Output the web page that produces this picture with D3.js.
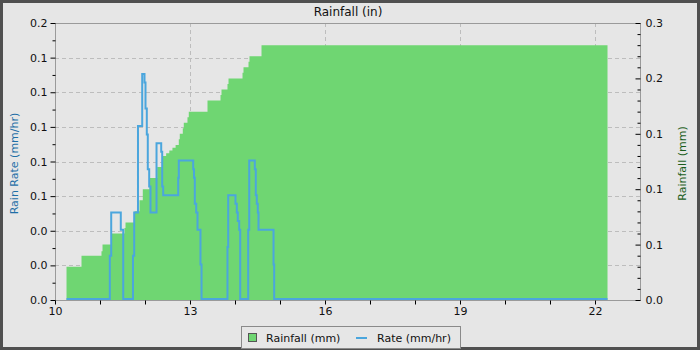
<!DOCTYPE html>
<html>
<head>
<meta charset="utf-8">
<script src="https://cdn.jsdelivr.net/npm/d3@7"></script>
<style>
    body { margin: 0; background: #e6e6e6; }
    svg { display: block; font-family: "DejaVu Sans", sans-serif; }
</style>
</head>
<body>
<svg id="chart" width="700" height="350"></svg>
<script>
// Donnees
const rainTimes = [10.256, 10.589, 11.033, 11.056, 11.256, 11.544, 11.567, 11.767, 11.878, 11.951,
    12.1, 12.271, 12.396, 12.47, 12.54, 12.61, 12.68, 12.751, 12.773, 12.84, 12.862, 12.944, 12.973,
    13.389, 13.678, 13.7, 13.833, 13.856, 14.167, 14.189, 14.3, 14.322, 14.589, 22.278];
const rainTotals = [0.03, 0.04, 0.044, 0.05, 0.06, 0.065, 0.07, 0.08, 0.09, 0.10,
    0.11, 0.12, 0.13, 0.1325, 0.135, 0.1375, 0.14, 0.145, 0.15, 0.155, 0.16, 0.165, 0.17,
    0.18, 0.185, 0.19, 0.195, 0.20, 0.205, 0.21, 0.215, 0.22, 0.23, 0.23];

const rateTimes = [10.256, 11.218, 11.249, 11.462, 11.516, 11.733, 11.76, 11.844, 11.938, 11.989,
    12.011, 12.04, 12.062, 12.093, 12.122, 12.256, 12.36, 12.382, 12.404, 12.738, 12.751,
    13.071, 13.089, 13.107, 13.138, 13.167, 13.233, 13.256, 13.833, 13.849, 14.011, 14.04,
    14.062, 14.093, 14.116, 14.293, 14.316, 14.44, 14.462, 14.484, 14.507, 14.522, 14.856,
    14.871, 22.278];
const rateValues = [0, 0.025, 0.05, 0.04, 0, 0.025, 0.05, 0.10, 0.13, 0.125,
    0.11, 0.095, 0.075, 0.065, 0.05, 0.09, 0.085, 0.065, 0.06, 0.07, 0.08,
    0.075, 0.07, 0.055, 0.05, 0.04, 0.02, 0, 0.03, 0.06, 0.055, 0.05,
    0.045, 0.04, 0, 0.04, 0.08, 0.075, 0.06, 0.055, 0.05, 0.04, 0.02,
    0, 0];

const xTickValues = [10, 13, 16, 19, 22];
const leftTickLabels = ["0.0", "0.0", "0.0", "0.1", "0.1", "0.1", "0.1", "0.1", "0.2"];
const rightTickLabels = ["0.0", "0.1", "0.1", "0.1", "0.2", "0.3"];

const config = {
    width: 700,
    height: 350,
    margin: { top: 23, right: 60, bottom: 50, left: 55 }
};

const svg = d3.select("#chart");
const plotLeft = config.margin.left;
const plotRight = config.width - config.margin.right;
const plotTop = config.margin.top;
const plotBottom = config.height - config.margin.bottom;

const xScale = d3.scaleLinear().domain([10, 23]).range([plotLeft, plotRight]);
const rateScale = d3.scaleLinear().domain([0, 0.16]).range([plotBottom, plotTop]);
const rainScale = d3.scaleLinear().domain([0, 0.25]).range([plotBottom, plotTop]);

// Fond et cadre
svg.append("rect")
    .attr("x", 1.5).attr("y", 1.5)
    .attr("width", config.width - 3).attr("height", config.height - 3)
    .attr("fill", "#e6e6e6")
    .attr("stroke", "#505050")
    .attr("stroke-width", 3);

// Grille
const leftMajor = d3.range(0, 9).map(function(i) { return i * 0.02; });
svg.append("g")
    .selectAll("line")
    .data(leftMajor.slice(1, -1))
    .enter()
    .append("line")
    .attr("x1", plotLeft).attr("x2", plotRight)
    .attr("y1", function(d) { return Math.round(rateScale(d)) + 0.5; })
    .attr("y2", function(d) { return Math.round(rateScale(d)) + 0.5; })
    .attr("stroke", "#bdbdbd")
    .attr("stroke-dasharray", "4,3");

svg.append("g")
    .selectAll("line")
    .data(xTickValues.slice(1))
    .enter()
    .append("line")
    .attr("y1", plotTop).attr("y2", plotBottom)
    .attr("x1", function(d) { return Math.round(xScale(d)) + 0.5; })
    .attr("x2", function(d) { return Math.round(xScale(d)) + 0.5; })
    .attr("stroke", "#bdbdbd")
    .attr("stroke-dasharray", "4,3");

// Pluie cumulee (aire en escalier)
const rainData = rainTimes.map(function(t, i) { return { t: t, v: rainTotals[i] }; });
const rainArea = d3.area()
    .curve(d3.curveStepAfter)
    .x(function(d) { return xScale(d.t); })
    .y0(rainScale(0))
    .y1(function(d) { return rainScale(d.v); });

svg.append("path")
    .datum(rainData)
    .attr("d", rainArea)
    .attr("fill", "#6fd672");

// Intensite (ligne en escalier)
const rateData = rateTimes.map(function(t, i) { return { t: t, v: rateValues[i] }; });
const rateLine = d3.line()
    .curve(d3.curveStepAfter)
    .x(function(d) { return xScale(d.t); })
    .y(function(d) { return rateScale(d.v) - 1; });

svg.append("path")
    .datum(rateData)
    .attr("d", rateLine)
    .attr("fill", "none")
    .attr("stroke", "#4ba6dd")
    .attr("stroke-width", 2);

// Cadre du graphique
svg.append("rect")
    .attr("x", plotLeft + 0.5).attr("y", plotTop + 0.5)
    .attr("width", plotRight - plotLeft).attr("height", plotBottom - plotTop)
    .attr("fill", "none")
    .attr("stroke", "#9a9a9a");

// Axes
const xAxis = svg.append("g")
    .attr("transform", "translate(0," + (plotBottom + 0.5) + ")")
    .call(d3.axisBottom(xScale)
        .tickValues(d3.range(10, 23))
        .tickSize(4)
        .tickFormat(function(d) { return xTickValues.indexOf(d) >= 0 ? d : ""; }));

const leftAxis = svg.append("g")
    .attr("transform", "translate(" + (plotLeft + 0.5) + ",0)")
    .call(d3.axisLeft(rateScale)
        .tickValues(leftMajor)
        .tickSize(5)
        .tickFormat(function(d, i) { return leftTickLabels[i]; }));

svg.append("g")
    .attr("transform", "translate(" + (plotLeft + 0.5) + ",0)")
    .call(d3.axisLeft(rateScale)
        .tickValues(d3.range(0, 8).map(function(i) { return 0.01 + i * 0.02; }))
        .tickSize(3)
        .tickFormat(""));

const rightAxis = svg.append("g")
    .attr("transform", "translate(" + (plotRight + 0.5) + ",0)")
    .call(d3.axisRight(rainScale)
        .tickValues(d3.range(0, 6).map(function(i) { return i * 0.05; }))
        .tickSize(-5)
        .tickPadding(8)
        .tickFormat(function(d, i) { return rightTickLabels[i]; }));

svg.append("g")
    .attr("transform", "translate(" + (plotRight + 0.5) + ",0)")
    .call(d3.axisRight(rainScale)
        .tickValues(d3.range(0, 26).map(function(i) { return i * 0.01; }).filter(function(d, i) { return i % 5 !== 0; }))
        .tickSize(-3)
        .tickFormat(""));

svg.selectAll(".domain").remove();
svg.selectAll(".tick line").attr("stroke", "#000");
svg.selectAll(".tick text")
    .attr("fill", "#111")
    .style("font-size", "11px")
    .style("font-family", "DejaVu Sans, sans-serif");
rightAxis.selectAll(".tick text").attr("dx", "-3");

// Titres
svg.append("text")
    .attr("x", 348).attr("y", 16)
    .attr("text-anchor", "middle")
    .style("font-size", "12px")
    .attr("fill", "#111")
    .text("Rainfall (in)");

svg.append("text")
    .attr("transform", "translate(18," + ((plotTop + plotBottom) / 2 + 2) + ") rotate(-90)")
    .attr("text-anchor", "middle")
    .style("font-size", "11px")
    .attr("fill", "#1f6fa6")
    .text("Rain Rate (mm/hr)");

svg.append("text")
    .attr("transform", "translate(686," + ((plotTop + plotBottom) / 2 + 2) + ") rotate(-90)")
    .attr("text-anchor", "middle")
    .style("font-size", "11px")
    .attr("fill", "#1b5e1b")
    .text("Rainfall (mm)");

// Legende
const legend = svg.append("g").attr("transform", "translate(241,326)");
legend.append("rect")
    .attr("x", 0.5).attr("y", 0.5)
    .attr("width", 219).attr("height", 22)
    .attr("fill", "#e6e6e6")
    .attr("stroke", "#8a8a8a");
legend.append("rect")
    .attr("x", 7.5).attr("y", 7.5)
    .attr("width", 8).attr("height", 8)
    .attr("fill", "#6fd672")
    .attr("stroke", "#555");
legend.append("text")
    .attr("x", 25).attr("y", 15.5)
    .style("font-size", "11px")
    .attr("fill", "#111")
    .text("Rainfall (mm)");
legend.append("line")
    .attr("x1", 115).attr("x2", 126)
    .attr("y1", 12).attr("y2", 12)
    .attr("stroke", "#4ba6dd")
    .attr("stroke-width", 2);
legend.append("text")
    .attr("x", 136).attr("y", 15.5)
    .style("font-size", "11px")
    .attr("fill", "#111")
    .text("Rate (mm/hr)");
</script>
</body>
</html>
